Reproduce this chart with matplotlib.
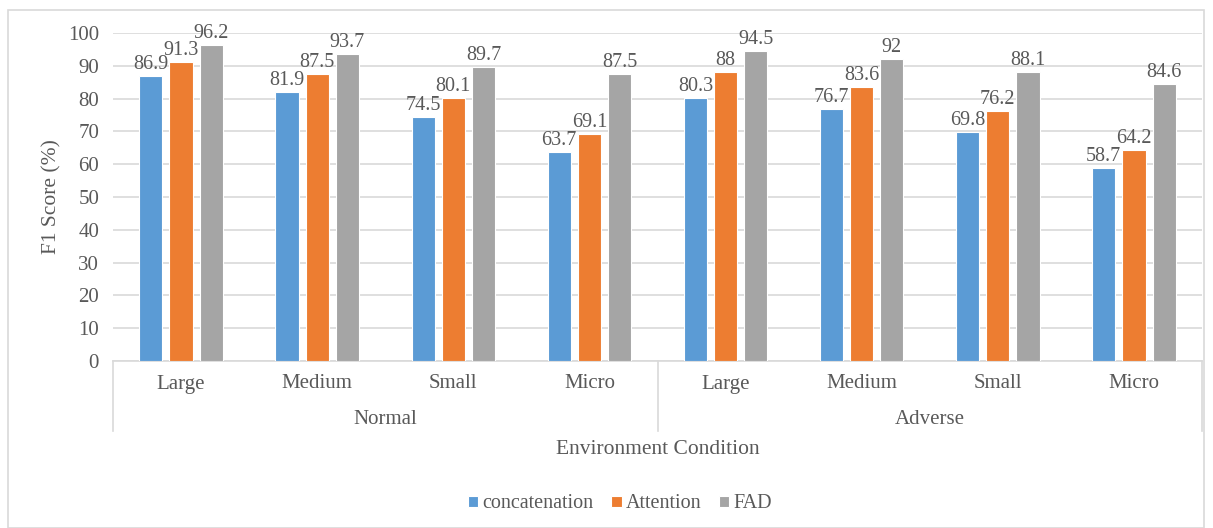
import matplotlib

matplotlib.use("Agg")

import matplotlib.pyplot as plt
import matplotlib.transforms as mtransforms
import numpy as np
from matplotlib.patches import Rectangle

SIZES = ["Large", "Medium", "Small", "Micro"]
CONDITIONS = ["Normal", "Adverse"]
SERIES = ["concatenation", "Attention", "FAD"]

concatenation = [86.9, 81.9, 74.5, 63.7, 80.3, 76.7, 69.8, 58.7]
attention = [91.3, 87.5, 80.1, 69.1, 88, 83.6, 76.2, 64.2]
fad = [96.2, 93.7, 89.7, 87.5, 94.5, 92, 88.1, 84.6]

COLORS = ["#5B9BD5", "#ED7D31", "#A5A5A5"]
TEXT = "#595959"
GRID = "#D9D9D9"

plt.rcParams["font.family"] = ["Liberation Serif", "DejaVu Serif"]
plt.rcParams["font.size"] = 14

fig = plt.figure(figsize=(12.13, 5.28), dpi=100)
W, H = 1213, 528
ax = fig.add_axes([113 / W, 1 - 361 / H, (1202 - 113) / W, (361 - 33) / H])

n = len(SIZES) * len(CONDITIONS)
x = np.arange(n)
width = 0.17
step = 0.222
handles = []
for i, (name, values) in enumerate(zip(SERIES, [concatenation, attention, fad])):
    pos = x + (i - 1) * step
    bars = ax.bar(pos, values, width, color=COLORS[i], edgecolor="white",
                  linewidth=0.8, label=name, zorder=3)
    handles.append(bars)
    for p, v in zip(pos, values):
        ax.text(p, v + 0.6, f"{v:g}", ha="center", va="bottom",
                color=TEXT, fontsize=14.5, zorder=4)

ax.set_xlim(-0.5, n - 0.5)
ax.set_ylim(0, 100)
ax.set_yticks(np.arange(0, 101, 10))
ax.yaxis.grid(True, color=GRID, linewidth=1.2, zorder=0)
ax.set_axisbelow(True)
ax.tick_params(axis="y", length=0, colors=TEXT, labelsize=15, pad=10)
ax.tick_params(axis="x", length=0, labelbottom=False)
for side in ["top", "right", "left"]:
    ax.spines[side].set_visible(False)
ax.spines["bottom"].set_color(GRID)
ax.spines["bottom"].set_linewidth(1.2)

ax.set_ylabel("F1 Score (%)", color=TEXT, fontsize=15.5, labelpad=5)

# two-level category axis below the plot
trans = mtransforms.blended_transform_factory(ax.transData, fig.transFigure)
y_top = 1 - 361 / H
y_bot = 1 - 431 / H
for xv in [-0.5, 3.5, 7.5]:
    ax.plot([xv, xv], [y_top, y_bot], color=GRID, linewidth=1.2,
            transform=trans, clip_on=False)
for j in range(n):
    ax.text(j, 1 - 384 / H, SIZES[j % len(SIZES)], transform=trans,
            ha="center", va="center", color=TEXT, fontsize=15)
for k, cond in enumerate(CONDITIONS):
    ax.text(1.5 + 4 * k, 1 - 420 / H, cond, transform=trans,
            ha="center", va="center", color=TEXT, fontsize=15)

fig.text((113 + 1202) / 2 / W, 1 - 449 / H, "Environment Condition",
         ha="center", va="center", color=TEXT, fontsize=15.5)

fig.legend(handles=handles, labels=SERIES, loc="center",
           bbox_to_anchor=(620 / W, 1 - 504 / H), ncol=3, frameon=False,
           handlelength=0.5, handleheight=0.5, handletextpad=0.2,
           columnspacing=0.9, labelcolor=TEXT, fontsize=14.5)

fig.add_artist(Rectangle((8 / W, 0.5 / H), (1204 - 8) / W, (527 - 9.5) / H,
                         transform=fig.transFigure, fill=False,
                         edgecolor=GRID, linewidth=1.2))

fig.savefig("out.png", dpi=100)
